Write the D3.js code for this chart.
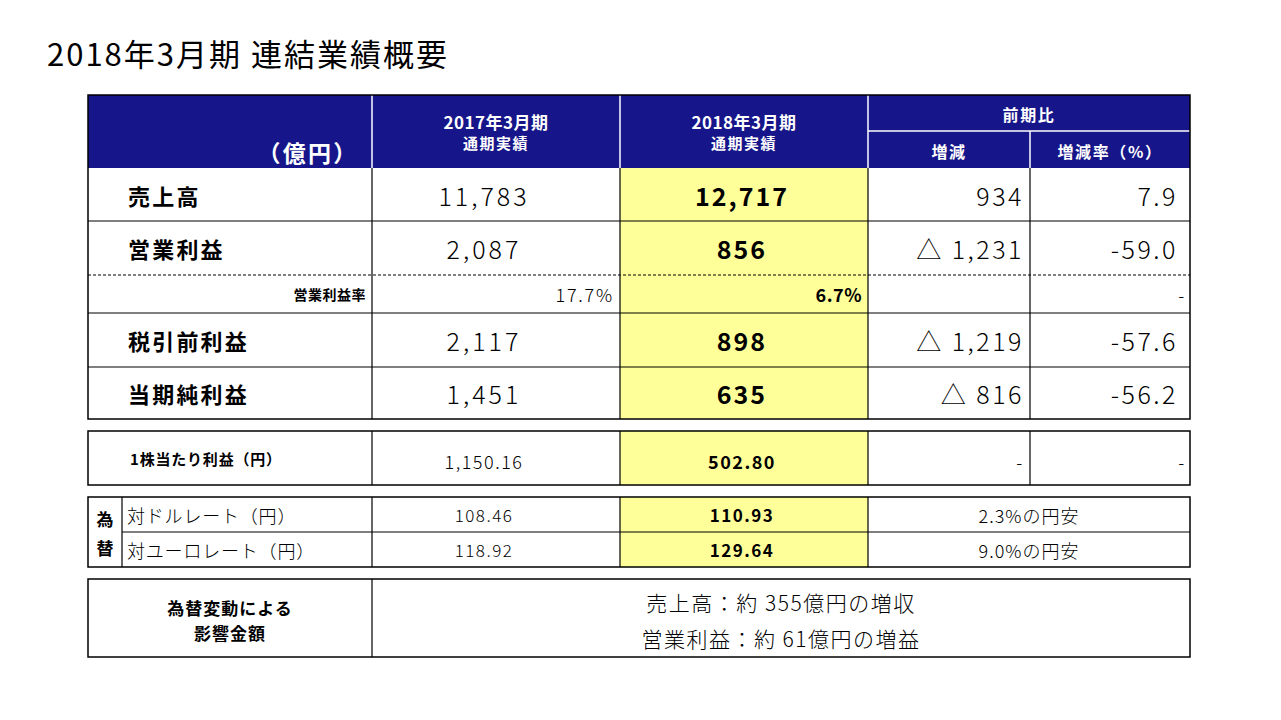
<!DOCTYPE html>
<html><head><meta charset="utf-8">
<script src="https://cdn.jsdelivr.net/npm/d3@7"></script>
<style>body{margin:0;background:#fff}text{font-family:"Noto Sans CJK JP",sans-serif}</style>
</head><body><svg id="c" width="1281" height="720"></svg>
<script>
var title = "2018年3月期 連結業績概要";
var mainLabels = ["売上高", "営業利益", "営業利益率", "税引前利益", "当期純利益"];
var prevValues = ["11,783", "2,087", "17.7%", "2,117", "1,451"];
var curValues = ["12,717", "856", "6.7%", "898", "635"];
var diffValues = ["934", "△ 1,231", "", "△ 1,219", "△ 816"];
var rateValues = ["7.9", "-59.0", "-", "-57.6", "-56.2"];
var epsRow = ["1株当たり利益（円）", "1,150.16", "502.80", "-", "-"];
var fxLabels = ["対ドルレート（円）", "対ユーロレート（円）"];
var fxPrev = ["108.46", "118.92"];
var fxCur = ["110.93", "129.64"];
var fxNote = ["2.3%の円安", "9.0%の円安"];
var impactLabel = ["為替変動による", "影響金額"];
var impactText = ["売上高：約 355億円の増収", "営業利益：約 61億円の増益"];

var svg = d3.select("#c");
var navy = "#16168a", yellow = "#ffff99";
var colX = [88, 372, 620, 868, 1030, 1190];
var x = d3.scaleOrdinal().domain(d3.range(6)).range(colX);

svg.append("text").attr("x", 47).attr("y", 66).attr("font-size", 31)
  .attr("letter-spacing", 2).text(title);

function txt(t, px, py, size, anchor, opts) {
  opts = opts || {};
  return svg.append("text").attr("x", px).attr("y", py).attr("font-size", size)
    .attr("text-anchor", anchor).attr("dominant-baseline", "central")
    .attr("letter-spacing", opts.ls != null ? opts.ls : size * 0.1)
    .attr("fill", opts.fill || "#000").attr("font-weight", opts.bold ? "bold" : opts.light ? 300 : "normal").text(t);
}
function line(x1, y1, x2, y2, w, dash, col) {
  svg.append("line").attr("x1", x1).attr("y1", y1).attr("x2", x2).attr("y2", y2)
    .attr("stroke", col || "#000").attr("stroke-width", w || 1).attr("stroke-dasharray", dash || null);
}

// header
svg.append("rect").attr("x", x(0)).attr("y", 95).attr("width", x(5) - x(0)).attr("height", 73).attr("fill", navy);
[1, 2, 3].forEach(i => line(x(i), 95, x(i), 168, 1.5, null, "#fff"));
line(x(4), 131, x(4), 168, 1.5, null, "#fff");
line(x(3), 131, x(5), 131, 1.5, null, "#fff");
txt("（億円）", 308, 152, 23, "middle", {fill: "#fff", bold: true});
[["2017年3月期", "通期実績"], ["2018年3月期", "通期実績"]].forEach((h, i) => {
  var cx = (x(i + 1) + x(i + 2)) / 2;
  txt(h[0], cx, 121, 17, "middle", {fill: "#fff", bold: true, ls: 0.5});
  txt(h[1], cx, 142, 15, "middle", {fill: "#fff", bold: true});
});
txt("前期比", (x(3) + x(5)) / 2, 114, 16, "middle", {fill: "#fff", bold: true});
txt("増減", (x(3) + x(4)) / 2, 151, 16, "middle", {fill: "#fff", bold: true});
txt("増減率（%）", (x(4) + x(5)) / 2, 151, 16, "middle", {fill: "#fff", bold: true});

// main rows
var rowTops = [168, 221, 275, 313, 367, 419];
svg.append("rect").attr("x", x(2)).attr("y", 168).attr("width", x(3) - x(2)).attr("height", 251).attr("fill", yellow);
mainLabels.forEach((lab, i) => {
  var y0 = rowTops[i], y1 = rowTops[i + 1], cy = (y0 + y1) / 2;
  if (i === 2) {
    txt(lab, 366, cy, 14, "end", {bold: true, ls: 0.5});
    txt(prevValues[i], 614, cy, 18, "end", {light: true});
    txt(curValues[i], 862, cy, 18, "end", {bold: true, ls: 0.5});
    txt(rateValues[i], 1186, cy, 18, "end", {light: true});
  } else {
    txt(lab, 128, cy, 22, "start", {bold: true});
    txt(prevValues[i], 484, cy, 25, "middle", {light: true, ls: 3});
    txt(curValues[i], 742, cy, 25, "middle", {bold: true, ls: 2});
    txt(diffValues[i], 1024, cy, 25, "end", {light: true, ls: 2.5});
    txt(rateValues[i], 1178, cy, 25, "end", {light: true, ls: 2.5});
  }
  if (i < 4) line(x(0), y1, x(5), y1, i === 1 ? 1 : 1.2, i === 1 ? "3,2" : null);
});
colX.slice(1, 5).forEach(c => line(c, 168, c, 419, 1.2));
svg.append("rect").attr("x", x(0)).attr("y", 95).attr("width", x(5) - x(0)).attr("height", 324)
  .attr("fill", "none").attr("stroke", "#000").attr("stroke-width", 1.5);

// EPS
svg.append("rect").attr("x", x(2)).attr("y", 431).attr("width", x(3) - x(2)).attr("height", 54).attr("fill", yellow);
colX.slice(1, 5).forEach(c => line(c, 431, c, 485, 1.2));
svg.append("rect").attr("x", x(0)).attr("y", 431).attr("width", x(5) - x(0)).attr("height", 54)
  .attr("fill", "none").attr("stroke", "#000").attr("stroke-width", 1.5);
txt(epsRow[0], 130, 458, 15, "start", {bold: true, ls: 0.8});
txt(epsRow[1], 484, 461, 18, "middle", {light: true, ls: 1.5});
txt(epsRow[2], 742, 461, 18, "middle", {bold: true, ls: 1.5});
txt(epsRow[3], 1024, 461, 18, "end", {light: true});
txt(epsRow[4], 1186, 461, 18, "end", {light: true});

// FX
var fxTop = 497, fxH = 35;
svg.append("rect").attr("x", x(2)).attr("y", fxTop).attr("width", x(3) - x(2)).attr("height", fxH * 2).attr("fill", yellow);
line(122, fxTop, 122, fxTop + fxH * 2, 1.2);
line(122, fxTop + fxH, x(5), fxTop + fxH, 1.2);
colX.slice(1, 4).forEach(c => line(c, fxTop, c, fxTop + fxH * 2, 1.2));
svg.append("rect").attr("x", x(0)).attr("y", fxTop).attr("width", x(5) - x(0)).attr("height", fxH * 2)
  .attr("fill", "none").attr("stroke", "#000").attr("stroke-width", 1.5);
txt("為", 105, 518, 17, "middle", {bold: true, ls: 0});
txt("替", 105, 547, 17, "middle", {bold: true, ls: 0});
fxLabels.forEach((lab, i) => {
  var cy = fxTop + fxH * i + fxH / 2;
  txt(lab, 127, cy, 18, "start", {light: true, ls: 0.8});
  txt(fxPrev[i], 484, cy, 17, "middle", {light: true, ls: 1.5});
  txt(fxCur[i], 742, cy, 17, "middle", {bold: true, ls: 1.5});
  txt(fxNote[i], 1029, cy, 18, "middle", {light: true, ls: 1});
});

// impact
svg.append("rect").attr("x", x(0)).attr("y", 579).attr("width", x(5) - x(0)).attr("height", 78)
  .attr("fill", "none").attr("stroke", "#000").attr("stroke-width", 1.5);
line(x(1), 579, x(1), 657, 1.2);
impactLabel.forEach((t, i) => txt(t, 230, 607 + i * 25, 17, "middle", {bold: true, ls: 1}));
impactText.forEach((t, i) => txt(t, 781, 602 + i * 36, 21, "middle", {light: true, ls: 1.5}));
</script></body></html>
